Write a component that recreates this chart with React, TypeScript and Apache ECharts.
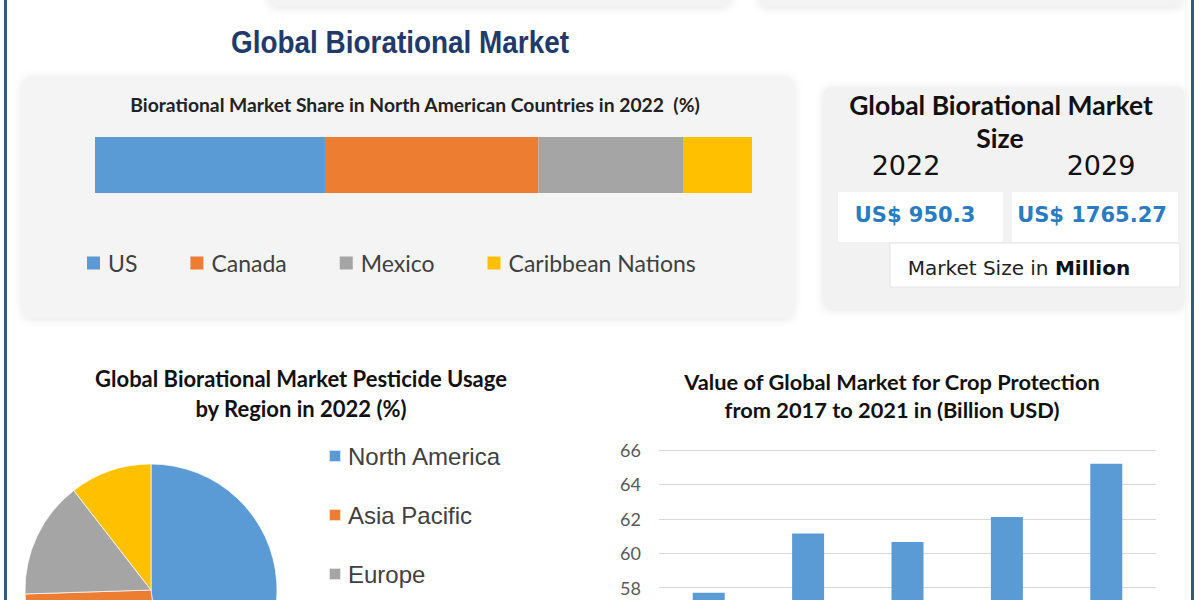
import React, { useEffect, useRef } from 'react';
import * as echarts from 'echarts';

// ---- data ----
const shareCountries = ['US', 'Canada', 'Mexico', 'Caribbean Nations'];
const shareValues = [35, 32.5, 22, 10.5];
const regionNames = ['North America', 'Asia Pacific', 'Europe', 'Rest of the World'];
const regionValues = [48, 26.5, 15, 10.5];
const visibleRegionLegend = ['North America', 'Asia Pacific', 'Europe'];
const years = ['2017', '2018', '2019', '2020', '2021'];
const cropValues = [57.7, 61.15, 60.65, 62.1, 65.2];
const sizeYears = ['2022', '2029'];
const sizeValues = ['US$ 950.3', 'US$ 1765.27'];
const palette = ['#5b9bd5', '#ed7d31', '#a5a5a5', '#ffc000'];

const LATO = 'Lato, "Noto Sans", sans-serif';
const DEJAVU = '"DejaVu Sans", sans-serif';

export default function App() {
  const ref = useRef<HTMLDivElement>(null);

  useEffect(() => {
    if (!ref.current) return;
    const chart = echarts.init(ref.current, null, { renderer: 'svg' });

    const panelShadow = { shadowBlur: 8, shadowColor: 'rgba(0,0,0,0.10)', shadowOffsetY: 1 };
    const center = { textAlign: 'center', textVerticalAlign: 'middle' };

    const graphic: any[] = [
      // top cut-off cards
      { type: 'rect', shape: { x: 268, y: -40, width: 463, height: 47, r: 8 }, style: { fill: '#f3f3f3', ...panelShadow }, z: 0 },
      { type: 'rect', shape: { x: 758, y: -40, width: 425, height: 47, r: 8 }, style: { fill: '#f3f3f3', ...panelShadow }, z: 0 },
      // panel 1
      { type: 'rect', shape: { x: 22, y: 77, width: 772, height: 241, r: 8 }, style: { fill: '#f4f4f4', ...panelShadow }, z: 0 },
      // panel 2
      { type: 'rect', shape: { x: 823, y: 87, width: 362, height: 222, r: 8 }, style: { fill: '#f2f2f2', ...panelShadow }, z: 0 },
      { type: 'rect', shape: { x: 838, y: 192, width: 165, height: 50 }, style: { fill: '#ffffff' }, z: 1 },
      { type: 'rect', shape: { x: 1012, y: 192, width: 166, height: 50 }, style: { fill: '#ffffff' }, z: 1 },
      { type: 'rect', shape: { x: 890, y: 243, width: 290, height: 44 }, style: { fill: '#ffffff', stroke: '#e4e4e4', lineWidth: 1 }, z: 1 },
      // frame
      { type: 'rect', shape: { x: 5.5, y: -30, width: 1187, height: 800, r: 10 }, style: { fill: 'none', stroke: '#36587d', lineWidth: 3 }, z: 10 },
      // main title
      { type: 'text', x: 400, y: 42, scaleX: 0.9, z: 5, style: { text: 'Global Biorational Market', fill: '#1f3a6b', font: 'bold 31px "Liberation Sans Narrow", "Liberation Sans", sans-serif', ...center } },
      // panel 1 subtitle
      { type: 'text', x: 415, y: 104, z: 5, style: { text: 'Biorational Market Share in North American Countries in 2022  (%)', fill: '#222', font: `bold 19.3px ${LATO}`, ...center } },
      // panel 2 texts
      { type: 'text', x: 1001, y: 105, z: 5, style: { text: 'Global Biorational Market', fill: '#111', font: `bold 26.5px ${LATO}`, ...center } },
      { type: 'text', x: 1000, y: 138, z: 5, style: { text: 'Size', fill: '#111', font: `bold 26.5px ${LATO}`, ...center } },
      { type: 'text', x: 906, y: 165, z: 5, style: { text: sizeYears[0], fill: '#111', font: `27px ${DEJAVU}`, ...center } },
      { type: 'text', x: 1101, y: 165, z: 5, style: { text: sizeYears[1], fill: '#111', font: `27px ${DEJAVU}`, ...center } },
      { type: 'text', x: 915, y: 215, z: 5, style: { text: sizeValues[0], fill: '#2a7bbf', font: `bold 21px ${DEJAVU}`, ...center } },
      { type: 'text', x: 1092, y: 215, z: 5, style: { text: sizeValues[1], fill: '#2a7bbf', font: `bold 21px ${DEJAVU}`, ...center } },
      {
        type: 'text', x: 1019, y: 268, z: 5,
        style: {
          text: '{a|Market Size in }{b|Million}',
          ...center,
          rich: {
            a: { fontSize: 20, fontFamily: DEJAVU, fill: '#222', color: '#222' },
            b: { fontSize: 20, fontFamily: DEJAVU, fontWeight: 'bold', fill: '#111', color: '#111' },
          },
        },
      },
      // lower titles
      { type: 'text', x: 301, y: 378, z: 5, style: { text: 'Global Biorational Market Pesticide Usage', fill: '#111', font: `bold 22px ${LATO}`, ...center } },
      { type: 'text', x: 301, y: 408, z: 5, style: { text: 'by Region in 2022 (%)', fill: '#111', font: `bold 22px ${LATO}`, ...center } },
      { type: 'text', x: 892, y: 381, z: 5, style: { text: 'Value of Global Market for Crop Protection', fill: '#111', font: `bold 21.8px ${LATO}`, ...center } },
      { type: 'text', x: 892, y: 409, z: 5, style: { text: 'from 2017 to 2021 in (Billion USD)', fill: '#111', font: `bold 21.8px ${LATO}`, ...center } },
    ];

    const shareSeries = shareCountries.map((name, i) => ({
      name,
      type: 'bar',
      stack: 'share',
      xAxisIndex: 0,
      yAxisIndex: 0,
      barWidth: 56,
      data: [shareValues[i]],
      itemStyle: { color: palette[i] },
      z: 3,
    }));

    const option: any = {
      animation: false,
      backgroundColor: '#ffffff',
      graphic,
      legend: [
        {
          data: shareCountries,
          left: 82,
          top: 246,
          orient: 'horizontal',
          icon: 'rect',
          itemWidth: 13,
          itemHeight: 13,
          itemGap: 53,
          selectedMode: false,
          textStyle: { fontFamily: LATO, fontSize: 23, lineHeight: 24, color: '#404040', padding: [0, 0, 0, 3] },
        },
        {
          data: visibleRegionLegend,
          left: 323,
          top: 439,
          orient: 'vertical',
          icon: 'rect',
          itemWidth: 12,
          itemHeight: 12,
          itemGap: 35,
          selectedMode: false,
          textStyle: { fontFamily: '"Liberation Sans", Arial, sans-serif', fontSize: 24, lineHeight: 24, color: '#404040', padding: [0, 0, 0, 2] },
        },
      ],
      grid: [
        { left: 95, top: 137, width: 657, height: 56 },
        { left: 659, top: 450, width: 497, height: 172 },
      ],
      xAxis: [
        { gridIndex: 0, type: 'value', min: 0, max: 100, show: false },
        {
          gridIndex: 1, type: 'category', data: years,
          axisLine: { lineStyle: { color: '#d9d9d9' } }, axisTick: { show: false },
          axisLabel: { show: false },
        },
      ],
      yAxis: [
        { gridIndex: 0, type: 'category', data: ['2022'], show: false },
        {
          gridIndex: 1, type: 'value', min: 56, max: 66, interval: 2,
          axisLine: { show: false }, axisTick: { show: false },
          splitLine: { lineStyle: { color: '#d9d9d9', width: 1 } },
          axisLabel: {
            color: '#595959', fontFamily: LATO, fontSize: 18, margin: 18,
            formatter: (v: number) => (v < 57 ? '' : String(v)),
          },
        },
      ],
      series: [
        ...shareSeries,
        {
          name: 'Crop Protection',
          type: 'bar',
          xAxisIndex: 1,
          yAxisIndex: 1,
          barWidth: 32,
          data: cropValues,
          itemStyle: { color: '#5b9bd5' },
          z: 3,
        },
        {
          name: 'Region',
          type: 'pie',
          center: [151, 590],
          radius: 126,
          startAngle: 90,
          label: { show: false },
          labelLine: { show: false },
          emphasis: { disabled: true },
          itemStyle: { borderColor: 'rgba(255,255,255,0.7)', borderWidth: 1 },
          data: regionNames.map((name, i) => ({ name, value: regionValues[i], itemStyle: { color: palette[i] } })),
          z: 3,
        },
      ],
    };

    chart.setOption(option);
    return () => chart.dispose();
  }, []);

  return <div ref={ref} style={{ position: 'absolute', left: 0, top: 0, width: 1200, height: 720 }} />;
}
